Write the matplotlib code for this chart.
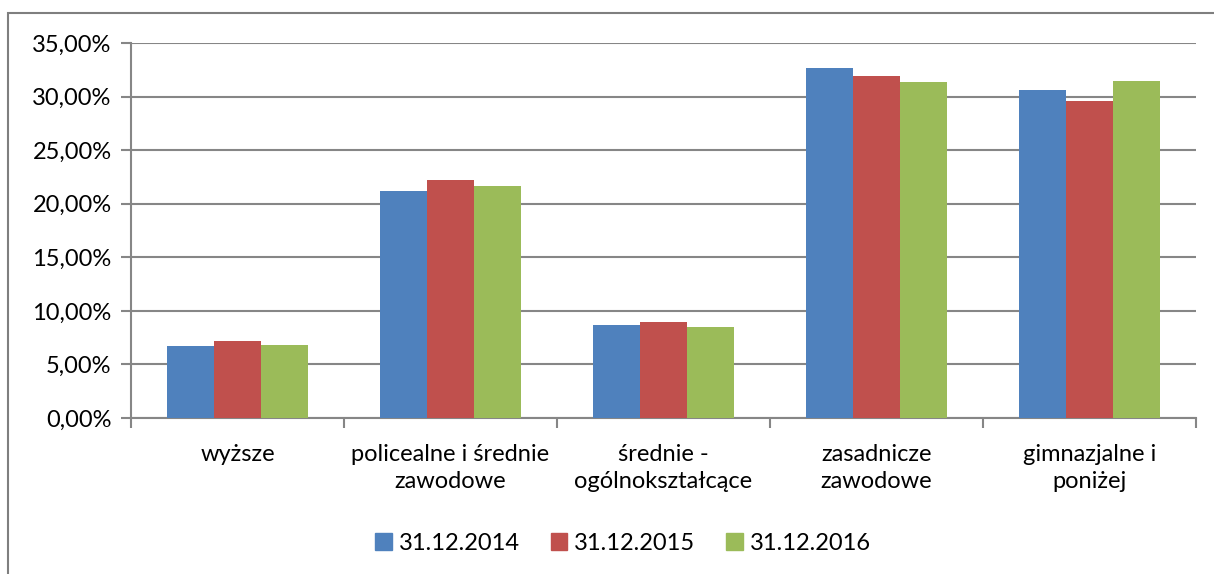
import matplotlib.pyplot as plt
import matplotlib.patches as mpatches
import numpy as np
from matplotlib.ticker import FuncFormatter

plt.rcParams['font.family'] = ['Lato', 'DejaVu Sans']

categories = ['wyższe', 'policealne i średnie\nzawodowe', 'średnie -\nogólnokształcące',
              'zasadnicze\nzawodowe', 'gimnazjalne i\nponiżej']
series_names = ['31.12.2014', '31.12.2015', '31.12.2016']
v2014 = [6.76, 21.17, 8.69, 32.70, 30.58]
v2015 = [7.16, 22.23, 8.94, 31.89, 29.58]
v2016 = [6.85, 21.67, 8.47, 31.39, 31.48]
colors = ['#4f81bd', '#c0504d', '#9bbb59']

fig = plt.figure(figsize=(12.14, 5.74), dpi=100)
ax = fig.add_axes([131 / 1214, 1 - 418 / 574, (1196 - 131) / 1214, (418 - 43) / 574])

x = np.arange(len(categories))
w = 0.22
for i, (vals, c) in enumerate(zip([v2014, v2015, v2016], colors)):
    ax.bar(x + (i - 1) * w, vals, width=w, color=c, edgecolor='none', zorder=3)

ax.set_xlim(-0.5, len(categories) - 0.5)
ax.set_ylim(0, 35)
ax.set_yticks(np.arange(0, 36, 5))
ax.yaxis.set_major_formatter(FuncFormatter(lambda v, p: f'{v:.2f}%'.replace('.', ',')))
ax.grid(axis='y', color='#868686', linewidth=1.5, zorder=0)

ax.set_xticks(np.arange(-0.5, len(categories)), minor=False)
ax.set_xticklabels([])
ax.set_xticks(x, minor=True)
ax.set_xticklabels(categories, minor=True, fontsize=17, linespacing=1.35)
ax.tick_params(axis='x', which='major', length=7, width=1.5, color='#868686')
ax.tick_params(axis='x', which='minor', length=0, pad=19)
ax.tick_params(axis='y', length=7, width=1.5, color='#868686', labelsize=17, pad=7)

for s in ['top', 'right']:
    ax.spines[s].set_visible(False)
for s in ['left', 'bottom']:
    ax.spines[s].set_color('#868686')
    ax.spines[s].set_linewidth(1.5)

handles = [mpatches.Patch(color=c, label=n) for c, n in zip(colors, series_names)]
fig.legend(handles=handles, loc='center', bbox_to_anchor=(623 / 1214, 1 - 543 / 574),
           ncol=3, frameon=False, fontsize=17, handlelength=0.7, handleheight=0.7,
           handletextpad=0.3, columnspacing=1.3)

border = mpatches.Rectangle((8 / 1214, -0.1), 1.2, 1 - 13 / 574 + 0.1, transform=fig.transFigure,
                            fill=False, edgecolor='#7f7f7f', linewidth=1.5)
fig.patches.append(border)

fig.savefig('out.png', dpi=100)
